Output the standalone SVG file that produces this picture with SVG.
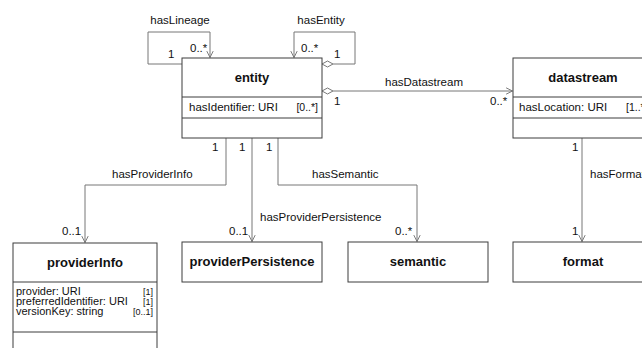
<svg xmlns="http://www.w3.org/2000/svg" width="642" height="348" viewBox="0 0 642 348">
  <defs>
    <style>
      text { font-family: "Liberation Sans", Arial, sans-serif; fill: #111; }
      .cls { fill: #fff; stroke: #3c3c3c; stroke-width: 1; }
      .sep { stroke: #3c3c3c; stroke-width: 1; }
      .title { font-size: 13px; font-weight: bold; text-anchor: middle; }
      .attr { font-size: 11.5px; }
      .small { font-size: 11px; }
      .mult { font-size: 9px; text-anchor: end; }
      .lbl { font-size: 11.5px; }
      .conn { fill: none; stroke: #777; stroke-width: 1; }
      .dia { fill: #fff; stroke: #777; stroke-width: 1; }
    </style>
    <marker id="open" viewBox="0 0 10 10" refX="9" refY="5" markerWidth="8" markerHeight="8" markerUnits="userSpaceOnUse" orient="auto">
      <path d="M1,1 L9,5 L1,9" fill="none" stroke="#777" stroke-width="1.2"/>
    </marker>
  </defs>
  <rect width="642" height="348" fill="#fff"/>

  <!-- connectors -->
  <g id="connectors">
    <!-- hasLineage self association -->
    <path class="conn" d="M182,64 H148 V32 H210 V57.5" marker-end="url(#open)"/>
    <text class="lbl" x="180" y="24" text-anchor="middle">hasLineage</text>
    <text class="lbl" x="168" y="58">1</text>
    <text class="lbl" x="190" y="52">0..*</text>

    <!-- hasEntity self aggregation -->
    <path class="conn" d="M333,64 H355 V32 H294 V57.5" marker-end="url(#open)"/>
    <path class="dia" d="M322,64 L327.5,61 L333,64 L327.5,67 Z"/>
    <text class="lbl" x="321" y="24" text-anchor="middle">hasEntity</text>
    <text class="lbl" x="301" y="52">0..*</text>
    <text class="lbl" x="334" y="58">1</text>

    <!-- hasDatastream -->
    <path class="conn" d="M333,91 H512.5" marker-end="url(#open)"/>
    <path class="dia" d="M322,91 L327.5,88 L333,91 L327.5,94 Z"/>
    <text class="lbl" x="424" y="86" text-anchor="middle">hasDatastream</text>
    <text class="lbl" x="334" y="105">1</text>
    <text class="lbl" x="490" y="105">0..*</text>

    <!-- hasProviderInfo -->
    <path class="conn" d="M226,138 V185 H85 V242.5" marker-end="url(#open)"/>
    <text class="lbl" x="112" y="178">hasProviderInfo</text>
    <text class="lbl" x="212" y="151">1</text>
    <text class="lbl" x="62" y="235">0..1</text>

    <!-- hasProviderPersistence -->
    <path class="conn" d="M252,138 V241.5" marker-end="url(#open)"/>
    <text class="lbl" x="260" y="221">hasProviderPersistence</text>
    <text class="lbl" x="239" y="151">1</text>
    <text class="lbl" x="229" y="235">0..1</text>

    <!-- hasSemantic -->
    <path class="conn" d="M278,138 V185 H417 V241.5" marker-end="url(#open)"/>
    <text class="lbl" x="312" y="178">hasSemantic</text>
    <text class="lbl" x="266" y="151">1</text>
    <text class="lbl" x="395" y="235">0..*</text>

    <!-- hasFormat -->
    <path class="conn" d="M582,138 V241.5" marker-end="url(#open)"/>
    <text class="lbl" x="590" y="178">hasFormat</text>
    <text class="lbl" x="572" y="151">1</text>
    <text class="lbl" x="572" y="235">1</text>
  </g>

  <!-- entity -->
  <g id="entity">
    <rect class="cls" x="182" y="58" width="140" height="80"/>
    <line class="sep" x1="182" y1="97" x2="322" y2="97"/>
    <line class="sep" x1="182" y1="118" x2="322" y2="118"/>
    <text class="title" x="252" y="82">entity</text>
    <text class="attr" x="189" y="111">hasIdentifier: URI</text>
    <text class="attr" x="318" y="111" text-anchor="end" style="font-size:10.5px">[0..*]</text>
  </g>

  <!-- datastream -->
  <g id="datastream">
    <rect class="cls" x="513" y="58" width="140" height="80"/>
    <line class="sep" x1="513" y1="97" x2="653" y2="97"/>
    <line class="sep" x1="513" y1="118" x2="653" y2="118"/>
    <text class="title" x="583" y="82">datastream</text>
    <text class="attr" x="519" y="111">hasLocation: URI</text>
    <text class="attr" x="626" y="111" style="font-size:10.5px">[1..*]</text>
  </g>

  <!-- providerInfo -->
  <g id="providerInfo">
    <rect class="cls" x="13" y="243" width="144" height="120"/>
    <line class="sep" x1="13" y1="282" x2="157" y2="282"/>
    <line class="sep" x1="13" y1="332" x2="157" y2="332"/>
    <text class="title" x="85" y="267">providerInfo</text>
    <text class="small" x="16" y="295">provider: URI</text>
    <text class="small" x="16" y="305">preferredIdentifier: URI</text>
    <text class="small" x="16" y="315">versionKey: string</text>
    <text class="mult" x="153" y="295">[1]</text>
    <text class="mult" x="153" y="305">[1]</text>
    <text class="mult" x="153" y="315">[0..1]</text>
  </g>

  <!-- providerPersistence -->
  <g id="providerPersistence">
    <rect class="cls" x="182" y="242" width="140" height="40"/>
    <text class="title" x="252" y="266">providerPersistence</text>
  </g>

  <!-- semantic -->
  <g id="semantic">
    <rect class="cls" x="348" y="242" width="140" height="40"/>
    <text class="title" x="418" y="266">semantic</text>
  </g>

  <!-- format -->
  <g id="format">
    <rect class="cls" x="513" y="242" width="140" height="40"/>
    <text class="title" x="583" y="266">format</text>
  </g>
</svg>
